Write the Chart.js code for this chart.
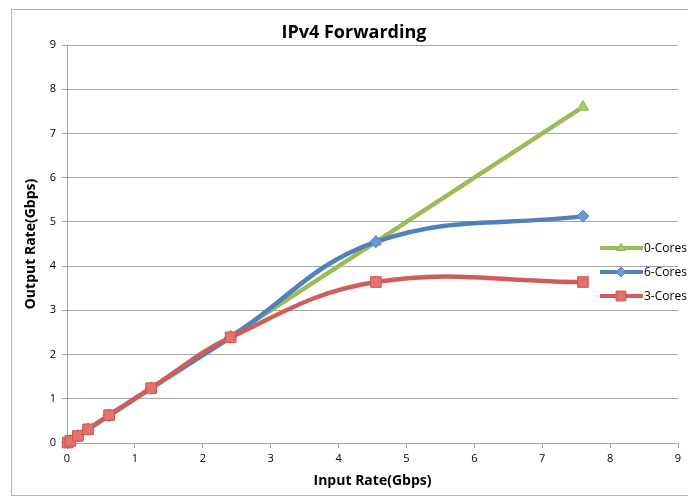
<!DOCTYPE html>
<html>
<head>
<meta charset="utf-8">
<script src="https://cdn.jsdelivr.net/npm/chart.js@4.4.0/dist/chart.umd.min.js"></script>
<style>
  html, body { margin: 0; padding: 0; background: #fff; }
  #wrap { position: relative; width: 688px; height: 498px; }
</style>
</head>
<body>
<div id="wrap"><canvas id="myChart" width="688" height="498"></canvas></div>
<script>
// valores (Gbps)
const inputRate = [0.01, 0.05, 0.16, 0.31, 0.62, 1.24, 2.41, 4.55, 7.6];
const zeroCores = [0.01, 0.05, 0.16, 0.31, 0.62, 1.24, 2.41, 4.55, 7.6];
const sixCores = [0.01, 0.05, 0.16, 0.31, 0.62, 1.24, 2.39, 4.55, 5.13];
const threeCores = [0.01, 0.05, 0.16, 0.31, 0.63, 1.24, 2.39, 3.64, 3.64];
const xTicks = [0, 1, 2, 3, 4, 5, 6, 7, 8, 9];
const yTicks = [0, 1, 2, 3, 4, 5, 6, 7, 8, 9];

const toPoints = (ys) => ys.map((y, i) => ({ x: inputRate[i], y: y }));

// marco, titulo y leyenda dibujados a mano
const frame = {
  id: 'frame',
  beforeDraw(chart) {
    const c = chart.ctx;
    c.save();
    c.strokeStyle = '#b5b5b5';
    c.lineWidth = 1;
    c.strokeRect(11.5, 9.5, 700, 486);
    c.restore();
  },
  afterDraw(chart) {
    const c = chart.ctx;
    c.save();
    c.fillStyle = '#000';
    c.font = 'bold 18px "Open Sans", sans-serif';
    c.textAlign = 'center';
    c.textBaseline = 'middle';
    c.fillText('IPv4 Forwarding', 354, 33);

    chart.data.datasets.forEach((ds, i) => {
      const y = 248 + i * 24;
      c.strokeStyle = ds.borderColor;
      c.lineWidth = 4;
      c.beginPath();
      c.moveTo(600, y);
      c.lineTo(643, y);
      c.stroke();
      c.fillStyle = ds.pointBackgroundColor;
      c.strokeStyle = ds.pointBorderColor;
      c.lineWidth = 1;
      Chart.helpers.drawPoint(c, {
        pointStyle: ds.pointStyle,
        radius: ds.legendRadius,
        borderWidth: 1
      }, 621, y);
      c.fillStyle = '#000';
      c.font = '12px "Open Sans", sans-serif';
      c.textAlign = 'left';
      c.fillText(ds.label, 644, y + 1);
    });
    c.restore();
  }
};

const ctx = document.getElementById('myChart').getContext('2d');

new Chart(ctx, {
  type: 'line',
  data: {
    datasets: [
      {
        label: '0-Cores',
        data: toPoints(zeroCores),
        borderColor: '#9BBB59',
        backgroundColor: '#A9CB68',
        pointBackgroundColor: '#A9CB68',
        pointBorderColor: '#93B256',
        pointStyle: 'triangle',
        pointRadius: 6.5,
        legendRadius: 5,
        pointBorderWidth: 1,
        borderWidth: 4.5,
        tension: 0.4,
        clip: false,
        order: 3
      },
      {
        label: '6-Cores',
        data: toPoints(sixCores),
        borderColor: '#4F81BD',
        backgroundColor: '#6A98D3',
        pointBackgroundColor: '#6A98D3',
        pointBorderColor: '#5586C2',
        pointStyle: 'rectRot',
        pointRadius: 6,
        legendRadius: 5,
        pointBorderWidth: 1,
        borderWidth: 4.5,
        tension: 0.4,
        clip: false,
        order: 2
      },
      {
        label: '3-Cores',
        data: toPoints(threeCores),
        borderColor: '#CF5E5A',
        backgroundColor: '#E4716D',
        pointBackgroundColor: '#E4716D',
        pointBorderColor: '#C85752',
        pointStyle: 'rect',
        pointRadius: 7.5,
        legendRadius: 7,
        pointBorderWidth: 1,
        borderWidth: 4.5,
        tension: 0.4,
        clip: false,
        order: 1
      }
    ]
  },
  options: {
    responsive: false,
    animation: false,
    layout: { padding: { left: 0, top: 45, right: 10, bottom: 0 } },
    plugins: {
      legend: { display: false },
      tooltip: { enabled: false }
    },
    scales: {
      x: {
        type: 'linear',
        min: 0,
        max: 9,
        afterFit: (s) => { s.height = 55; },
        afterBuildTicks: (s) => { s.ticks = xTicks.map(v => ({ value: v })); },
        grid: { drawOnChartArea: false, color: '#a6a6a6', tickLength: 5 },
        border: { color: '#a6a6a6' },
        ticks: { color: '#000', font: { size: 11, family: '"Open Sans", sans-serif' }, padding: 4, maxRotation: 0 },
        title: {
          display: true,
          text: 'Input Rate(Gbps)',
          color: '#000',
          font: { size: 14, weight: 'bold', family: '"Open Sans", sans-serif' },
          padding: { top: 0, bottom: 9 }
        }
      },
      y: {
        type: 'linear',
        min: 0,
        max: 9,
        afterFit: (s) => { s.width = 67; },
        afterBuildTicks: (s) => { s.ticks = yTicks.map(v => ({ value: v })); },
        grid: { color: '#a6a6a6', tickLength: 5 },
        border: { color: '#a6a6a6' },
        ticks: { color: '#000', font: { size: 11, family: '"Open Sans", sans-serif' }, padding: 6 },
        title: {
          display: true,
          text: 'Output Rate(Gbps)',
          color: '#000',
          font: { size: 14, weight: 'bold', family: '"Open Sans", sans-serif' },
          padding: { top: 23, bottom: 0 }
        }
      }
    }
  },
  plugins: [frame]
});
</script>
</body>
</html>
